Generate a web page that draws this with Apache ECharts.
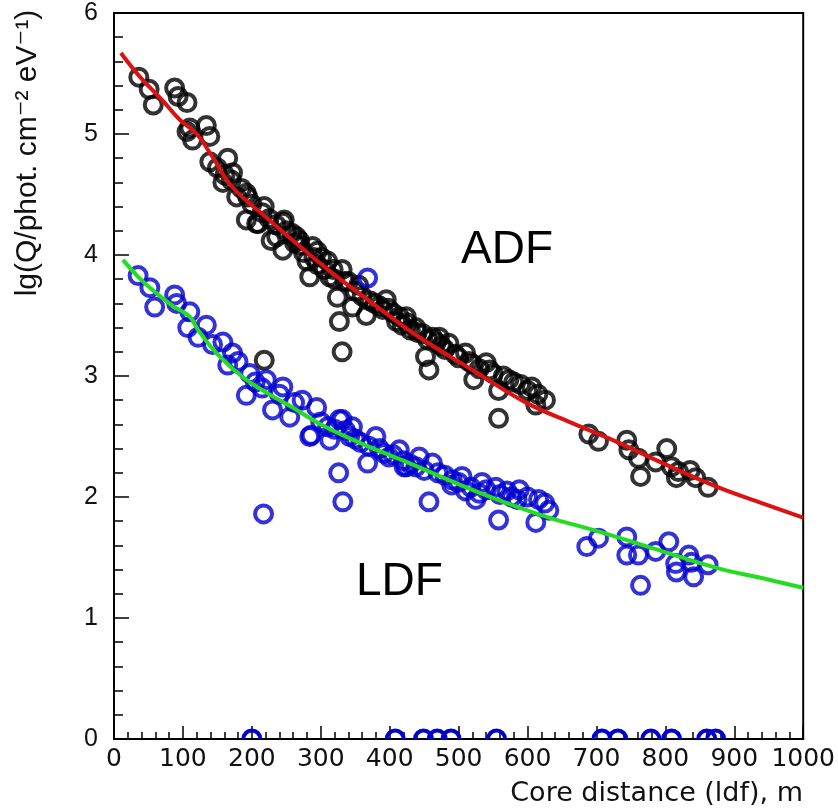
<!DOCTYPE html>
<html><head><meta charset="utf-8">
<script src="https://cdn.jsdelivr.net/npm/echarts/dist/echarts.min.js"></script>
<style>html,body{margin:0;padding:0;background:#fff}#c{width:838px;height:808px}</style>
</head><body><div id="c"></div>
<script>
// ADF measured points (core distance m, lg Q)
const adfPoints = [
 [36,5.47],[51,5.37],[57,5.24],[88,5.38],[93,5.31],[106,5.26],[110,5.05],[134,5.07],[139,4.98],[114,4.95],
 [106,5.02],[165,4.80],[139,4.77],[161,4.66],[172,4.68],[178,4.48],[194,4.48],[192,4.29],[218,4.40],[245,4.27],
 [236,4.15],[265,4.15],[245,4.04],[207,4.26],[158,4.60],[192,4.51],[209,4.26],[247,4.29],[228,4.12],[269,4.12],
 [288,4.07],[301,3.98],[284,3.82],[331,3.88],[313,3.82],[324,3.65],[327,3.45],[331,3.20],[346,3.57],[366,3.50],
 [395,3.63],[414,3.49],[438,3.40],[462,3.32],[457,3.05],[218,3.13],[424,3.49],[452,3.16],[472,3.32],[510,3.19],
 [522,2.97],[558,2.88],[573,2.97],[606,2.91],[626,2.80],[612,2.76],[558,2.65],[540,3.11],[486,3.27],
 [689,2.52],[703,2.46],[744,2.47],[747,2.39],[761,2.32],[764,2.17],[786,2.29],[802,2.40],[816,2.16],[819,2.21],
 [836,2.22],[844,2.16],[862,2.08],[809,2.25],
 [150,4.72],[170,4.62],[185,4.55],[200,4.42],[215,4.35],[225,4.30],[235,4.25],
 [280,3.95],[295,3.92],[305,3.88],[340,3.78],
 [250,4.20],[258,4.18],[262,4.10],[270,4.08],[275,4.02],[290,3.98],[295,4.03],[310,3.95],[318,3.88],[320,3.80],
 [335,3.78],[350,3.70],[355,3.75],[360,3.66],[372,3.62],[378,3.60],[385,3.58],[390,3.55],[398,3.56],[405,3.52],
 [410,3.45],[418,3.42],[425,3.44],[430,3.38],[440,3.36],[448,3.35],[455,3.30],[468,3.28],[475,3.25],[480,3.22],
 [495,3.18],[500,3.15],[515,3.12],[520,3.10],[530,3.06],[545,3.05],[550,3.02],[565,3.00],[580,2.95],[590,2.93],
 [600,2.88],[615,2.85]
];
// LDF measured points
const ldfPoints = [
 [35,3.83],[52,3.73],[59,3.57],[88,3.67],[91,3.60],[110,3.53],[107,3.40],[134,3.42],[122,3.32],[143,3.26],
 [158,3.28],[172,3.19],[165,3.09],[197,3.02],[192,2.84],[221,2.97],[245,2.91],[230,2.72],[273,2.80],[294,2.74],
 [255,2.66],[284,2.50],[331,2.64],[313,2.47],[342,2.50],[217,1.86],[326,2.20],[332,1.96],[368,2.28],[421,2.25],
 [286,2.51],[327,2.64],[346,2.58],[380,2.50],[424,2.25],[414,2.39],[462,2.28],[457,1.96],[491,2.14],[505,2.17],
 [525,1.98],[554,2.08],[558,1.81],[577,2.00],[616,1.98],[631,1.89],[612,1.79],[588,2.06],[399,2.33],[443,2.33],
 [534,2.12],[368,3.81],
 [686,1.59],[703,1.66],[744,1.67],[744,1.52],[761,1.52],[764,1.27],[786,1.55],[805,1.63],[815,1.45],[816,1.38],
 [834,1.52],[841,1.34],[862,1.44],[838,1.46],
 [180,3.12],[205,2.95],[215,2.90],[240,2.85],[262,2.78],[300,2.62],[310,2.58],[320,2.56],[336,2.55],[350,2.48],
 [358,2.45],[370,2.42],[385,2.40],[392,2.36],[405,2.35],[420,2.30],[430,2.27],[438,2.25],[450,2.22],[470,2.20],
 [480,2.18],[490,2.10],[500,2.12],[510,2.05],[518,2.08],[530,2.03],[540,2.06],[560,2.02],[570,2.05],[585,1.98],
 [600,2.00],[625,1.95]
];
// LDF points with zero signal (drawn on the x axis)
const ldfZeroX = [200,408,449,469,489,555,708,731,779,809,860,873];
// fitted curves
const adfFit = [[10,5.67],[38,5.47],[70,5.28],[95,5.12],[120,5.00],[143,4.81],[172,4.56],[221,4.31],[270,4.07],[317,3.85],
 [380,3.58],[443,3.32],[520,3.05],[598,2.78],[665,2.61],[732,2.45],[800,2.27],[877,2.08],[940,1.95],[1000,1.83]];
const ldfFit = [[13,3.96],[35,3.82],[56,3.71],[85,3.58],[110,3.49],[122,3.38],[150,3.18],[187,2.99],[225,2.85],[259,2.74],
 [300,2.60],[356,2.45],[420,2.30],[511,2.08],[570,1.95],[631,1.83],[700,1.72],[780,1.58],[877,1.41],[940,1.33],[1000,1.25]];
const xRange = [0,1000], xStep = 100;
const yRange = [0,6], yStep = 1;
const yTitle = 'lg(Q/phot. cm\u207B\u00B2 eV\u207B\u00B9)';
const xTitle = 'Core distance (ldf), m';

const BLUE = '#0000d0';
const chart = echarts.init(document.getElementById('c'));
const circleStyle = (c) => ({color:'rgba(0,0,0,0)', borderColor:c, borderWidth:4});
chart.setOption({
  animation:false,
  backgroundColor:'#fff',
  grid:{left:114,right:33,top:13,bottom:69,show:true,borderColor:'#000',borderWidth:2},
  xAxis:{type:'value',min:xRange[0],max:xRange[1],interval:xStep,
    axisLine:{lineStyle:{color:'#000',width:2}},
    axisTick:{inside:true,length:13,lineStyle:{color:'#000',width:1.5}},
    minorTick:{show:true,splitNumber:5,length:7,lineStyle:{color:'#000',width:1.5}},
    splitLine:{show:false},
    axisLabel:{fontFamily:'DejaVu Sans',fontSize:25,color:'#111',margin:8,formatter:(v)=>String(v)}},
  yAxis:{type:'value',min:yRange[0],max:yRange[1],interval:yStep,
    axisLine:{lineStyle:{color:'#000',width:2}},
    axisTick:{inside:true,length:15,lineStyle:{color:'#000',width:1.5}},
    minorTick:{show:true,splitNumber:5,length:9,lineStyle:{color:'#000',width:1.5}},
    splitLine:{show:false},
    axisLabel:{fontFamily:'Liberation Sans',fontSize:25,color:'#111',margin:16,formatter:(v)=>String(v)}},
  graphic:[
    {type:'text',x:28,y:153,rotation:Math.PI/2,style:{text:yTitle,font:'30px "Liberation Sans", "DejaVu Sans"',fill:'#111',align:'center',verticalAlign:'middle'}},
    {type:'text',x:803,y:794,style:{text:xTitle,font:'27px "DejaVu Sans"',fill:'#111',align:'right',verticalAlign:'middle'}},
    {type:'text',x:461,y:250,style:{text:'ADF',font:'46px "Liberation Sans"',fill:'#000',align:'left',verticalAlign:'middle'}},
    {type:'text',x:356,y:582,style:{text:'LDF',font:'46px "Liberation Sans"',fill:'#000',align:'left',verticalAlign:'middle'}}
  ],
  series:[
    {name:'ADF',type:'scatter',data:adfPoints,symbol:'circle',symbolSize:17,itemStyle:circleStyle('#000')},
    {name:'LDF',type:'scatter',data:ldfPoints,symbol:'circle',symbolSize:17,itemStyle:circleStyle(BLUE)},
    {name:'LDF zero',type:'custom',clip:true,data:ldfZeroX.map(x=>[x,0]),
      renderItem:(params,api)=>{const p=api.coord([api.value(0),api.value(1)]);
        return {type:'circle',shape:{cx:p[0],cy:p[1],r:8.5},style:{fill:'none',stroke:BLUE,lineWidth:4}};}},
    {name:'ADF fit',type:'line',data:adfFit,smooth:0.4,showSymbol:false,lineStyle:{color:'#dd1111',width:4}},
    {name:'LDF fit',type:'line',data:ldfFit,smooth:0.4,showSymbol:false,lineStyle:{color:'#22dd22',width:4}}
  ]
});
</script></body></html>
